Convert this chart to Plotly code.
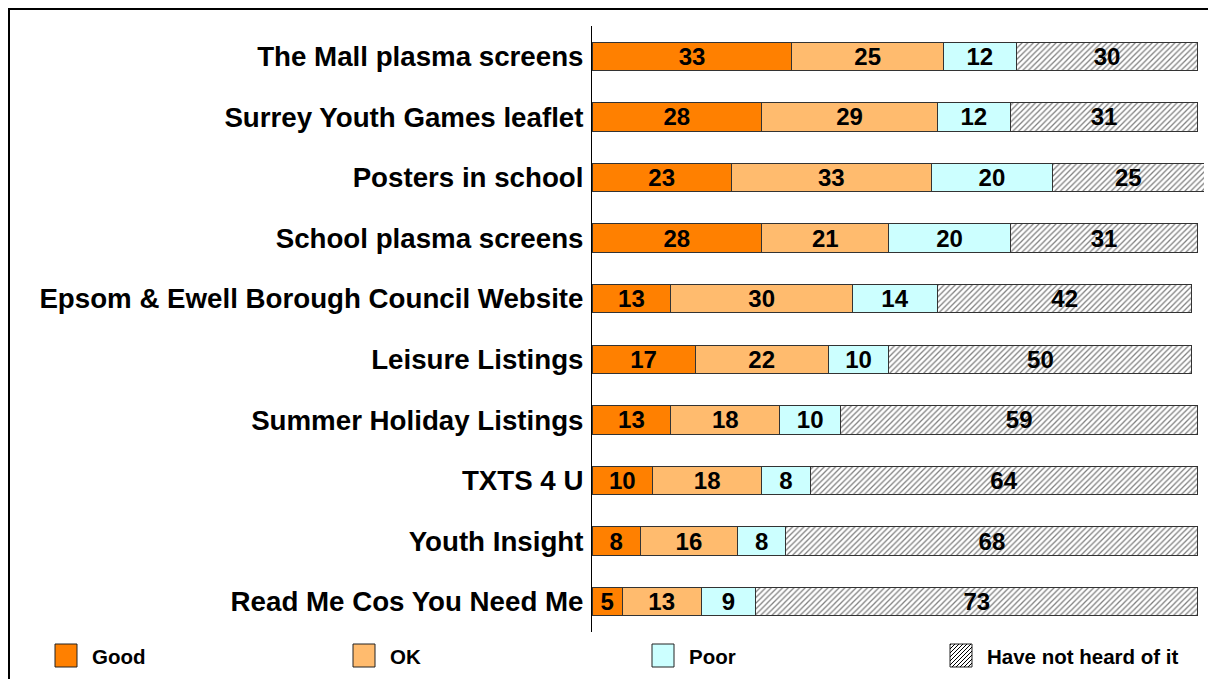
import plotly.graph_objects as go

categories = [
    "The Mall plasma screens",
    "Surrey Youth Games leaflet",
    "Posters in school",
    "School plasma screens",
    "Epsom & Ewell Borough Council Website",
    "Leisure Listings",
    "Summer Holiday Listings",
    "TXTS 4 U",
    "Youth Insight",
    "Read Me Cos You Need Me",
]
good = [33, 28, 23, 28, 13, 17, 13, 10, 8, 5]
ok = [25, 29, 33, 21, 30, 22, 18, 18, 16, 13]
poor = [12, 12, 20, 20, 14, 10, 10, 8, 8, 9]
not_heard = [30, 31, 25, 31, 42, 50, 59, 64, 68, 73]
series_names = ["Good", "OK", "Poor", "Have not heard of it"]

FONT = "Liberation Sans, Arial, sans-serif"
OFF = 8  # page body margin
W, H = 1216 - OFF, 679 - OFF
L, R, T, B = 592 - OFF, 12, 26 - OFF, 47
PW, PH = W - L - R, H - T - B


def px(x):  # reference-screen x -> paper
    return (x - OFF - L) / PW


def py(y):  # reference-screen y -> paper
    return (H - B - (y - OFF)) / PH


fig = go.Figure()
colors = ["#FF8000", "#FFBB6E", "#CCFFFF", "#FFFFFF"]
for name, vals, col in zip(series_names, [good, ok, poor, not_heard], colors):
    marker = dict(color=col, line=dict(color="#333333", width=1))
    if name == "Have not heard of it":
        marker["pattern"] = dict(shape="/", fgcolor="black", bgcolor="white", size=4, solidity=0.32)
    fig.add_trace(go.Bar(
        name=name, y=categories, x=vals, orientation="h", marker=marker,
        text=vals, texttemplate="%{x}", textposition="inside",
        insidetextanchor="middle", textangle=0, constraintext="none",
        textfont=dict(family=FONT, size=24, color="black", weight="bold"),
        showlegend=False, cliponaxis=False,
    ))

shapes = []
# outer frame
shapes.append(dict(type="rect", xref="paper", yref="paper",
                   x0=(1 - L) / PW, x1=px(1260), y0=py(720), y1=(H - B - 1) / PH,
                   line=dict(color="black", width=2), fillcolor="rgba(0,0,0,0)", layer="below"))

annotations = []
leg_x = [55, 353, 652, 950]
y0s, y1s = 644, 667
for name, lx, col in zip(series_names, leg_x, colors):
    shapes.append(dict(type="rect", xref="paper", yref="paper",
                       x0=px(lx), x1=px(lx + 22), y0=py(y1s), y1=py(y0s),
                       fillcolor=col, line=dict(color="#222222", width=1)))
    if name == "Have not heard of it":
        segs = []
        step = 4
        for k in range(-22, 23, step):
            xa, ya = lx + k, y1s
            xb, yb = lx + k + 23, y0s
            if xa < lx:
                ya = ya - (lx - xa)
                xa = lx
            if xb > lx + 22:
                yb = yb + (xb - (lx + 22))
                xb = lx + 22
            if xb - xa > 0.5:
                segs.append(f"M{px(xa)},{py(ya)} L{px(xb)},{py(yb)}")
        shapes.append(dict(type="path", xref="paper", yref="paper", path=" ".join(segs),
                           line=dict(color="black", width=1)))
    annotations.append(dict(xref="paper", yref="paper", x=px(lx + 35), y=py(656),
                            xanchor="left", yanchor="middle", showarrow=False, text=name,
                            font=dict(family=FONT, size=20.5, color="black", weight="bold")))

fig.update_layout(
    width=W, height=H, barmode="stack", bargap=0.53,
    margin=dict(l=L, r=R, t=T, b=B, autoexpand=False),
    paper_bgcolor="white", plot_bgcolor="white",
    xaxis=dict(range=[0, 101], visible=False, fixedrange=True),
    yaxis=dict(autorange="reversed", showline=True, linecolor="black", linewidth=1,
               ticks="", showgrid=False, ticklabelstandoff=2,
               tickfont=dict(family=FONT, size=27.7, color="black", weight="bold")),
    shapes=shapes, annotations=annotations,
    font=dict(family=FONT),
)

fig.write_html("out.html")
